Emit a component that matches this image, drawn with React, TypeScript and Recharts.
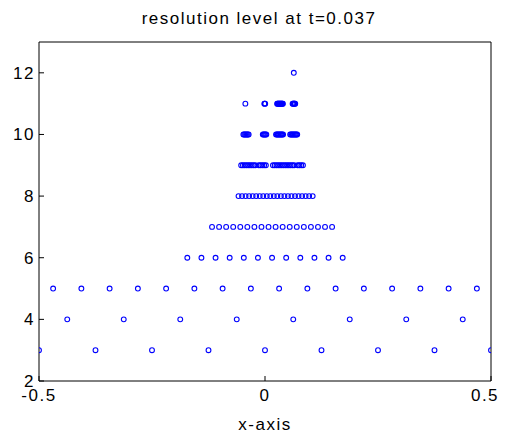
import { ScatterChart, Scatter, XAxis, YAxis } from 'recharts';

// x positions of the grid points at each resolution level
const level3X = [-0.5, -0.375, -0.25, -0.125, 0, 0.125, 0.25, 0.375, 0.5];
const level4X = [-0.4375, -0.3125, -0.1875, -0.0625, 0.0625, 0.1875, 0.3125, 0.4375];
const level5X = [
  -0.46875, -0.40625, -0.34375, -0.28125, -0.21875, -0.15625, -0.09375, -0.03125,
  0.03125, 0.09375, 0.15625, 0.21875, 0.28125, 0.34375, 0.40625, 0.46875,
];
const level6X = [
  -0.17188, -0.14063, -0.10938, -0.07813, -0.04688, -0.01563,
  0.01563, 0.04688, 0.07813, 0.10938, 0.14063, 0.17188,
];
const level7X = [
  -0.11719, -0.10156, -0.08594, -0.07031, -0.05469, -0.03906, -0.02344, -0.00781,
  0.00781, 0.02344, 0.03906, 0.05469, 0.07031, 0.08594, 0.10156, 0.11719, 0.13281, 0.14844,
];
const level8X = [
  -0.05859, -0.05078, -0.04297, -0.03516, -0.02734, -0.01953, -0.01172, -0.00391,
  0.00391, 0.01172, 0.01953, 0.02734, 0.03516, 0.04297, 0.05078, 0.05859, 0.06641,
  0.07422, 0.08203, 0.08984, 0.09766, 0.10547,
];
const level9X = [
  -0.05273, -0.04883, -0.04492, -0.04102, -0.03711, -0.0332, -0.0293, -0.02539, -0.02148,
  -0.01367, -0.00977, -0.00586, -0.00195, 0.00195,
  0.01758, 0.02148, 0.02539, 0.0293, 0.0332, 0.03711, 0.04102, 0.04492, 0.04883, 0.05273,
  0.05664, 0.06055, 0.06445, 0.07227, 0.07617, 0.08008, 0.08398,
];
const level10X = [
  -0.04785, -0.0459, -0.04395, -0.04199, -0.04004, -0.03809, -0.03613,
  -0.00488, -0.00293, -0.00098, 0.00098, 0.00293,
  0.02441, 0.02637, 0.02832, 0.03027, 0.03223, 0.03418, 0.03613, 0.03809, 0.04004,
  0.05566, 0.05762, 0.05957, 0.06152, 0.06348, 0.06543, 0.06738, 0.06934, 0.07129,
];
const level11X = [
  -0.04346,
  -0.00146, -0.00049, 0.00049,
  0.02686, 0.02783, 0.02881, 0.02979, 0.03076, 0.03174, 0.03271, 0.03369, 0.03467,
  0.03564, 0.03662, 0.0376, 0.03857, 0.03955,
  0.06104, 0.06201, 0.06299, 0.06396, 0.06494, 0.06592, 0.06689,
];
const level12X = [0.06372];

const levels: [number, number[]][] = [
  [3, level3X], [4, level4X], [5, level5X], [6, level6X], [7, level7X],
  [8, level8X], [9, level9X], [10, level10X], [11, level11X], [12, level12X],
];

const xTicks = [-0.5, 0, 0.5];
const yTicks = [2, 4, 6, 8, 10, 12];

const FONT = '"Liberation Sans", Arial, Helvetica, sans-serif';
const tickStyle = { fill: '#000', fontSize: 17, fontFamily: FONT, letterSpacing: 1.5 };

const ring = (p: any) => (
  <circle cx={p.cx} cy={p.cy} r={2.4} fill="none" stroke="#0000ff" strokeWidth={1.1} />
);
const nothing = () => <g />;

// the page clips at x=500, so keep the last label inside it
const XTick = (p: any) => (
  <text x={Math.min(p.x, 485)} y={p.y} dy="0.71em" textAnchor="middle" {...tickStyle}>
    {p.payload.value}
  </text>
);

export default function App() {
  return (
    <div style={{ position: 'relative', width: 508, height: 440, margin: '-8px 0 0 -8px' }}>
      <div
        style={{
          position: 'absolute', top: 9, left: 33, width: 452, textAlign: 'center',
          fontFamily: FONT, fontSize: 17, lineHeight: '20px', letterSpacing: 1.5, color: '#000',
        }}
      >
        resolution level at t=0.037
      </div>
      <ScatterChart width={508} height={440} margin={{ top: 41, right: 16, bottom: 0, left: 0 }}>
        <XAxis
          dataKey="x" type="number" domain={[-0.5, 0.5]} ticks={xTicks} interval={0}
          allowDataOverflow stroke="#000" tickSize={-5} tickMargin={13} height={59}
          tick={XTick}
          label={{ value: 'x-axis', position: 'insideBottom', offset: 10, style: { ...tickStyle } }}
        />
        <XAxis
          xAxisId="top" orientation="top" dataKey="x" type="number" domain={[-0.5, 0.5]}
          ticks={xTicks} interval={0} allowDataOverflow stroke="#000" tickSize={-5}
          tick={false} height={1}
        />
        <YAxis
          dataKey="y" type="number" domain={[2, 13]} ticks={yTicks} interval={0}
          allowDataOverflow stroke="#000" tickSize={-5} tickMargin={9} width={39}
          tick={tickStyle}
        />
        <YAxis
          yAxisId="right" orientation="right" dataKey="y" type="number" domain={[2, 13]}
          ticks={yTicks} interval={0} allowDataOverflow stroke="#000" tickSize={-5}
          tick={false} width={1}
        />
        {levels.map(([lvl, xs]) => (
          <Scatter
            key={lvl}
            data={xs.map((x) => ({ x, y: lvl }))}
            shape={ring}
            isAnimationActive={false}
          />
        ))}
        <Scatter
          xAxisId="top"
          yAxisId="right"
          data={level3X.map((x) => ({ x, y: 3 }))}
          shape={nothing}
          isAnimationActive={false}
        />
      </ScatterChart>
    </div>
  );
}
